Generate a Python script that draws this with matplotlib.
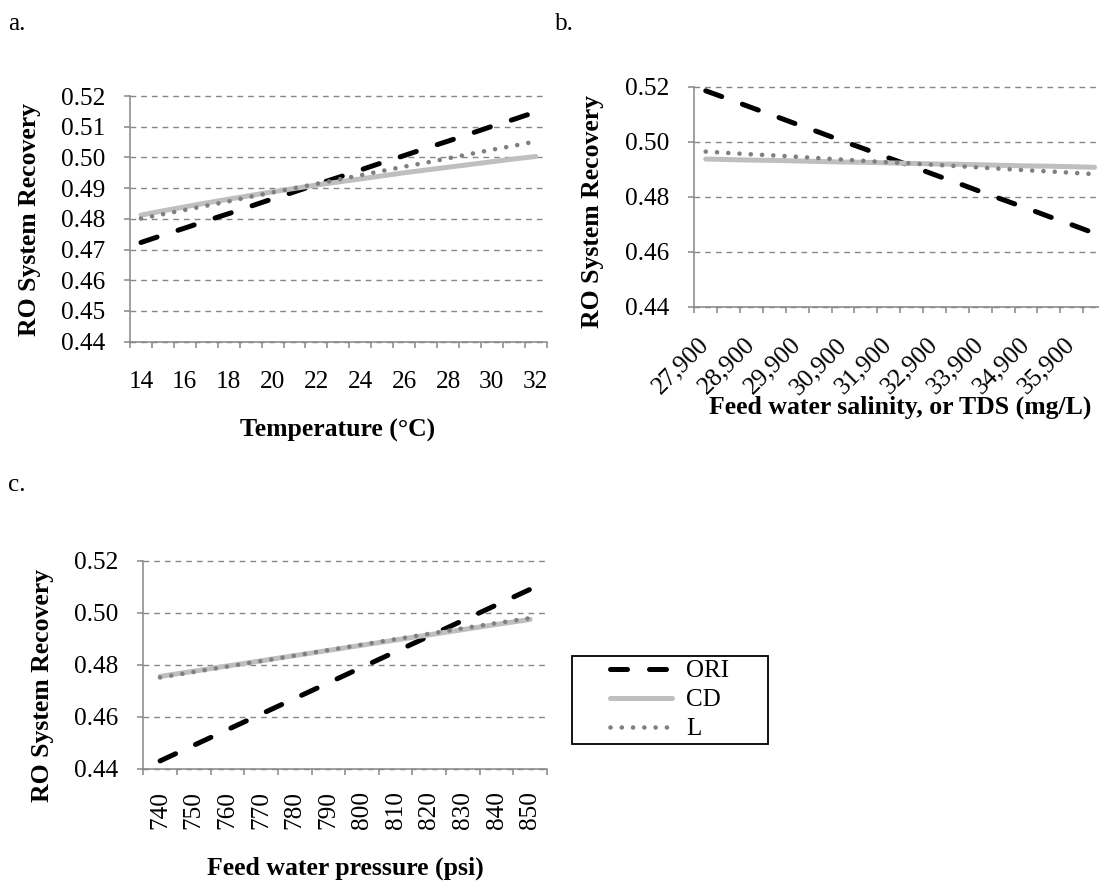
import numpy as np
import matplotlib
matplotlib.use("Agg")
import matplotlib.pyplot as plt
from matplotlib.patches import Rectangle

W, H = 1099, 883
GRID = "#868686"; CDC = "#bfbfbf"; LC = "#7f7f7f"
TICK = 18.2
plt.rcParams.update({"font.family": "Liberation Serif", "font.size": TICK, "text.color": "black"})

# --- data ---
temp = [14, 15, 16, 17, 18, 19, 20, 21, 22, 23, 24, 25, 26, 27, 28, 29, 30, 31, 32]
temp_ori = [0.4723, 0.4747, 0.4770, 0.4794, 0.4817, 0.4841, 0.4865, 0.4888, 0.4912, 0.4935,
            0.4959, 0.4983, 0.5006, 0.5030, 0.5053, 0.5077, 0.5101, 0.5124, 0.5148]
temp_cd = [0.4812, 0.4826, 0.4839, 0.4852, 0.4864, 0.4876, 0.4888, 0.4899, 0.4910, 0.4920,
           0.4930, 0.4940, 0.4950, 0.4959, 0.4968, 0.4977, 0.4986, 0.4995, 0.5003]
temp_l = [0.4801, 0.4815, 0.4829, 0.4843, 0.4857, 0.4872, 0.4886, 0.4900, 0.4914, 0.4928,
          0.4942, 0.4956, 0.4970, 0.4983, 0.4997, 0.5011, 0.5025, 0.5038, 0.5052]

tds = [27900, 28400, 28900, 29400, 29900, 30400, 30900, 31400, 31900, 32400,
       32900, 33400, 33900, 34400, 34900, 35400, 35900, 36400]
tds_ori = [0.5185, 0.5155, 0.5124, 0.5094, 0.5063, 0.5033, 0.5002, 0.4972, 0.4941, 0.4911,
           0.4880, 0.4850, 0.4819, 0.4789, 0.4759, 0.4728, 0.4698, 0.4667]
tds_cd = [0.4937, 0.4935, 0.4933, 0.4932, 0.4930, 0.4928, 0.4926, 0.4925, 0.4923, 0.4921,
          0.4919, 0.4918, 0.4916, 0.4914, 0.4912, 0.4911, 0.4909, 0.4907]
tds_l = [0.4964, 0.4959, 0.4954, 0.4950, 0.4945, 0.4940, 0.4935, 0.4930, 0.4925, 0.4921,
         0.4916, 0.4911, 0.4906, 0.4901, 0.4896, 0.4892, 0.4887, 0.4882]

psi = [740, 750, 760, 770, 780, 790, 800, 810, 820, 830, 840, 850]
psi_ori = [0.4430, 0.4490, 0.4550, 0.4610, 0.4670, 0.4730, 0.4790, 0.4850, 0.4910, 0.4970,
           0.5030, 0.5090]
psi_cd = [0.4755, 0.4775, 0.4795, 0.4815, 0.4835, 0.4855, 0.4875, 0.4895, 0.4915, 0.4935,
          0.4955, 0.4974]
psi_l = [0.4751, 0.4772, 0.4793, 0.4814, 0.4835, 0.4856, 0.4877, 0.4898, 0.4919, 0.4940,
         0.4960, 0.4979]

yt_a = [0.44, 0.45, 0.46, 0.47, 0.48, 0.49, 0.50, 0.51, 0.52]
yl_a = ["0.44", "0.45", "0.46", "0.47", "0.48", "0.49", "0.50", "0.51", "0.52"]
yt_bc = [0.44, 0.46, 0.48, 0.50, 0.52]
yl_bc = ["0.44", "0.46", "0.48", "0.50", "0.52"]
xl_a = ["14", "16", "18", "20", "22", "24", "26", "28", "30", "32"]
xl_b = ["27,900", "28,900", "29,900", "30,900", "31,900", "32,900", "33,900", "34,900", "35,900"]
xl_c = ["740", "750", "760", "770", "780", "790", "800", "810", "820", "830", "840", "850"]


def rect(x0, y0, x1, y1):
    return [x0 / W, 1 - y1 / H, (x1 - x0) / W, (y1 - y0) / H]


def fx(x):
    return x / W


def fy(y):
    return 1 - y / H


def panel(ax, cats, ori, cd, l, yt, yl, xl, step, xpad):
    n = len(cats)
    x = np.arange(n)
    ax.plot(x, ori, color="black", lw=3.6, ls=(0, (3.4, 4.4)), dash_capstyle="round",
            solid_capstyle="round", label="ORI", zorder=3)
    ax.plot(x, cd, color=CDC, lw=3.6, solid_capstyle="round", label="CD", zorder=3)
    ax.plot(x, l, color=LC, lw=3.3, ls=(0, (0.01, 2.45)), dash_capstyle="round",
            label="L", zorder=3)
    ax.set_xlim(-0.5, n - 0.5)
    ax.set_ylim(yt[0], yt[-1])
    ax.set_yticks(yt, yl)
    ax.set_xticks(x[::step], xl)
    ax.set_xticks(np.arange(n + 1) - 0.5, minor=True)
    ax.yaxis.grid(True, color=GRID, lw=1.0, ls=(0, (4.1, 3.6)))
    for gl in ax.get_ygridlines():
        gl.set_clip_on(False)
    ax.set_axisbelow(True)
    for s in ("top", "right"):
        ax.spines[s].set_visible(False)
    for s in ("left", "bottom"):
        ax.spines[s].set_color(GRID)
        ax.spines[s].set_linewidth(1.1)
    ax.tick_params(axis="y", length=4.5, width=1.1, color=GRID, pad=13.2, labelsize=TICK)
    ax.tick_params(axis="x", which="major", length=0, pad=xpad, labelsize=TICK)
    ax.tick_params(axis="x", which="minor", length=4.5, width=1.1, color=GRID)


fig = plt.figure(figsize=(W / 100, H / 100), dpi=100)
fig.patch.set_facecolor("white")

ax_a = fig.add_axes(rect(130, 96, 546.7, 341.7))
panel(ax_a, temp, temp_ori, temp_cd, temp_l, yt_a, yl_a, xl_a, 2, 21)

ax_b = fig.add_axes(rect(694.3, 86.7, 1106, 306.7))
panel(ax_b, tds, tds_ori, tds_cd, tds_l, yt_bc, yl_bc, xl_b, 2, 25)
plt.setp(ax_b.get_xticklabels(), rotation=45, ha="right", va="center", rotation_mode="anchor")

ax_c = fig.add_axes(rect(143.3, 560.7, 547, 768.7))
panel(ax_c, psi, psi_ori, psi_cd, psi_l, yt_bc, yl_bc, xl_c, 1, 16)
plt.setp(ax_c.get_xticklabels(), rotation=90, ha="center", va="top")

# panel letters
fig.text(fx(8), fy(30), "a.", fontsize=TICK, va="baseline")
fig.text(fx(555), fy(30), "b.", fontsize=TICK, va="baseline")
fig.text(fx(8), fy(491), "c.", fontsize=TICK, va="baseline")

# axis titles
lab = dict(fontsize=18.5, fontweight="bold")
fig.text(fx(338), fy(437), "Temperature (°C)", ha="center", va="baseline", **lab)
fig.text(fx(900), fy(414), "Feed water salinity, or TDS (mg/L)", ha="center", va="baseline", **lab)
fig.text(fx(345), fy(875), "Feed water pressure (psi)", ha="center", va="baseline", **lab)
fig.text(fx(30), fy(220), "RO System Recovery", rotation=90, ha="center", va="center", **lab)
fig.text(fx(593), fy(211), "RO System Recovery", rotation=90, ha="center", va="center", **lab)
fig.text(fx(43), fy(686), "RO System Recovery", rotation=90, ha="center", va="center", **lab)

# legend with its own frame box
ax_c.legend(loc="center", bbox_to_anchor=(fx(670), fy(700)), bbox_transform=fig.transFigure,
            frameon=False, fontsize=18, handlelength=2.48, handletextpad=0.56,
            labelspacing=0.26, borderpad=0)
fig.add_artist(Rectangle((fx(571.7), fy(744)), (768.3 - 571.7) / W, (744 - 655.7) / H,
                         transform=fig.transFigure, fill=False, edgecolor="black", lw=1.3))

fig.savefig("out.png", dpi=100, facecolor="white")
